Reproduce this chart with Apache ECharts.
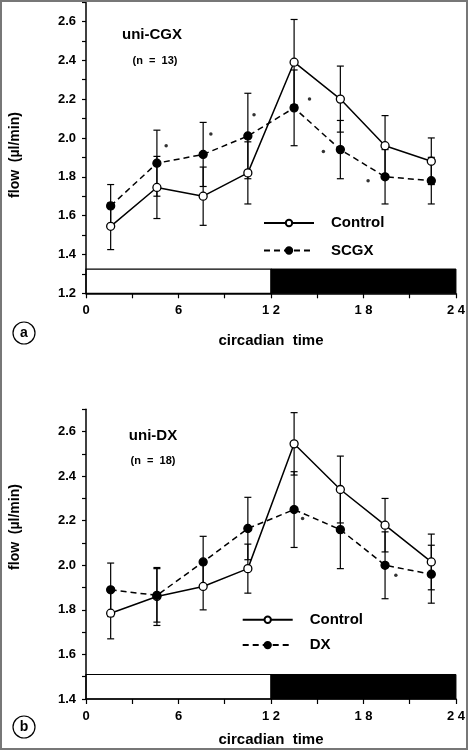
<!DOCTYPE html>
<html>
<head>
<meta charset="utf-8">
<script src="https://cdn.jsdelivr.net/npm/echarts@6/dist/echarts.min.js"></script>
<style>
  html, body { margin: 0; padding: 0; background: #fff; }
  #chart { width: 468px; height: 750px; }
</style>
</head>
<body>
<div id="chart"></div>
<script>
// circadian time of each sample (h)
var hours = [1.6, 4.6, 7.6, 10.5, 13.5, 16.5, 19.4, 22.4];

// panel a: uni-CGX
var ctrlA = [1.545, 1.745, 1.70, 1.82, 2.39, 2.20, 1.96, 1.88];
var ctrlAErr = [0.12, 0.16, 0.15, 0.16, 0.22, 0.17, 0.155, 0.12];
var scgx = [1.65, 1.87, 1.915, 2.01, 2.155, 1.94, 1.80, 1.78];
var scgxErr = [0.11, 0.17, 0.165, 0.22, 0.195, 0.15, 0.14, 0.12];
var starsA = [[5.2, 1.96], [8.1, 2.02], [10.9, 2.12], [14.5, 2.2], [15.4, 1.93], [18.3, 1.78]];

// panel b: uni-DX
var ctrlB = [1.785, 1.86, 1.905, 1.985, 2.545, 2.34, 2.18, 2.015];
var ctrlBErr = [0.115, 0.13, 0.105, 0.11, 0.14, 0.15, 0.12, 0.125];
var dx = [1.89, 1.865, 2.015, 2.165, 2.25, 2.16, 2.0, 1.96];
var dxErr = [0.12, 0.12, 0.115, 0.14, 0.17, 0.175, 0.15, 0.13];
var starsB = [[14.05, 2.21], [20.1, 1.955]];

// light / dark phases (h) and bar top on each panel
var lightPhase = [0, 12];
var darkPhase = [12, 24];
var barTopA = 1.325;
var barTopB = 1.51;

var yRangeA = [1.2, 2.7];
var yRangeB = [1.4, 2.7];
var xTicks = [0, 6, 12, 18, 24];

var FONT = 'Liberation Sans';

function pts(ys) {
  return hours.map(function (h, i) { return [h, ys[i]]; });
}
function errPts(ys, es) {
  return hours.map(function (h, i) { return [h, ys[i], es[i]]; });
}

function errRender(params, api) {
  var x = api.value(0), y = api.value(1), e = api.value(2);
  var hi = api.coord([x, y + e]);
  var lo = api.coord([x, y - e]);
  var w = 3.5;
  var st = { stroke: '#000', lineWidth: 1.2 };
  return {
    type: 'group',
    children: [
      { type: 'line', shape: { x1: hi[0], y1: hi[1], x2: lo[0], y2: lo[1] }, style: st },
      { type: 'line', shape: { x1: hi[0] - w, y1: hi[1], x2: hi[0] + w, y2: hi[1] }, style: st },
      { type: 'line', shape: { x1: lo[0] - w, y1: lo[1], x2: lo[0] + w, y2: lo[1] }, style: st }
    ]
  };
}

function phaseArea(y0, yTop) {
  return {
    silent: true,
    z: 0,
    data: [
      [{ xAxis: lightPhase[0], yAxis: y0, itemStyle: { color: '#fff', borderColor: '#000', borderWidth: 1.2 } },
       { xAxis: lightPhase[1], yAxis: yTop }],
      [{ xAxis: darkPhase[0], yAxis: y0, itemStyle: { color: '#000', borderColor: '#000', borderWidth: 1 } },
       { xAxis: darkPhase[1], yAxis: yTop }]
    ]
  };
}

function xAxisOpt(idx, gap) {
  return {
    type: 'value', gridIndex: idx, min: 0, max: 24, interval: 3,
    name: 'circadian  time', nameLocation: 'middle', nameGap: gap,
    nameTextStyle: { fontFamily: FONT, fontWeight: 'bold', fontSize: 15, color: '#000' },
    axisLine: { lineStyle: { color: '#000', width: 1.5 } },
    axisTick: { lineStyle: { color: '#000', width: 1.2 }, length: 5 },
    splitLine: { show: false },
    axisLabel: {
      margin: 11, fontFamily: FONT, fontWeight: 'bold', fontSize: 13, color: '#000',
      formatter: function (v) {
        if (xTicks.indexOf(v) < 0) return '';
        return String(v).split('').join(' ');
      }
    }
  };
}

function yAxisOpt(idx, range) {
  return {
    type: 'value', gridIndex: idx, min: range[0], max: range[1], interval: 0.1,
    axisLine: { show: true, lineStyle: { color: '#000', width: 1.5 } },
    axisTick: { show: true, lineStyle: { color: '#000', width: 1.2 }, length: 4 },
    splitLine: { show: false },
    axisLabel: {
      margin: 10, fontFamily: FONT, fontWeight: 'bold', fontSize: 13, color: '#000',
      formatter: function (v) {
        var k = Math.round(v * 10);
        if (k % 2 !== 0 || k > 26) return '';
        return (k / 10).toFixed(1);
      }
    }
  };
}

function lineSeries(name, idx, ys, open, area) {
  var s = {
    name: name, type: 'line', xAxisIndex: idx, yAxisIndex: idx,
    data: pts(ys), symbol: 'circle', symbolSize: 8, z: 3,
    itemStyle: { color: open ? '#fff' : '#000', borderColor: '#000', borderWidth: 1.3 },
    lineStyle: { color: '#000', width: 1.5, type: open ? 'solid' : [6, 4] }
  };
  if (area) s.markArea = area;
  return s;
}

function errSeries(idx, ys, es) {
  return {
    type: 'custom', xAxisIndex: idx, yAxisIndex: idx, z: 2, silent: true,
    data: errPts(ys, es), renderItem: errRender, encode: { x: 0, y: 1 }
  };
}

function starSeries(idx, pts) {
  return {
    type: 'scatter', xAxisIndex: idx, yAxisIndex: idx, z: 3, silent: true,
    data: pts, symbol: 'circle', symbolSize: 3.5, itemStyle: { color: '#000' }
  };
}

var chart = echarts.init(document.getElementById('chart'));

var txt = function (x, y, text, size, extra) {
  var o = {
    type: 'text', x: x, y: y, z: 10,
    style: { text: text, fontFamily: FONT, fontWeight: 'bold', fontSize: size, fill: '#000', align: 'center', verticalAlign: 'middle' }
  };
  if (extra) for (var k in extra) o[k] = extra[k];
  return o;
};

var legendText = { fontFamily: FONT, fontWeight: 'bold', fontSize: 15, color: '#000', padding: [0, 0, 0, 12] };

var option = {
  animation: false,
  backgroundColor: '#fff',
  grid: [
    { left: 86, width: 373, top: 2, height: 291.3 },
    { left: 86, width: 371.7, top: 409.3, height: 289.7 }
  ],
  xAxis: [xAxisOpt(0, 40), xAxisOpt(1, 33)],
  yAxis: [yAxisOpt(0, yRangeA), yAxisOpt(1, yRangeB)],
  legend: [
    {
      data: ['Control', 'SCGX'], orient: 'vertical', left: 263, top: 215.5, padding: 0,
      itemWidth: 50, itemHeight: 8, itemGap: 12.5, textStyle: legendText
    },
    {
      data: ['Control', 'DX'], orient: 'vertical', left: 241.7, top: 612.3, padding: 0,
      itemWidth: 50, itemHeight: 8, itemGap: 10.3, textStyle: legendText
    }
  ],
  series: [
    errSeries(0, ctrlA, ctrlAErr),
    errSeries(0, scgx, scgxErr),
    lineSeries('Control', 0, ctrlA, true, phaseArea(yRangeA[0], barTopA)),
    lineSeries('SCGX', 0, scgx, false),
    starSeries(0, starsA),
    errSeries(1, ctrlB, ctrlBErr),
    errSeries(1, dx, dxErr),
    lineSeries('Control', 1, ctrlB, true, phaseArea(yRangeB[0], barTopB)),
    lineSeries('DX', 1, dx, false),
    starSeries(1, starsB)
  ],
  graphic: [
    { type: 'rect', shape: { x: 1, y: 1, width: 466, height: 748 }, style: { fill: 'none', stroke: '#777', lineWidth: 2 }, z: 20 },
    txt(152, 35, 'uni-CGX', 15),
    txt(155, 61, '(n  =  13)', 11),
    txt(153, 436, 'uni-DX', 15),
    txt(153, 461, '(n  =  18)', 11),
    txt(15, 155, 'flow  (µl/min)', 14, { rotation: Math.PI / 2 }),
    txt(15, 527, 'flow  (µl/min)', 14, { rotation: Math.PI / 2 }),
    { type: 'circle', shape: { cx: 24, cy: 333, r: 11 }, style: { fill: '#fff', stroke: '#000', lineWidth: 1.2 }, z: 9 },
    txt(24, 333, 'a', 14),
    { type: 'circle', shape: { cx: 24, cy: 727, r: 11 }, style: { fill: '#fff', stroke: '#000', lineWidth: 1.2 }, z: 9 },
    txt(24, 727, 'b', 14)
  ]
};

chart.setOption(option);
</script>
</body>
</html>
